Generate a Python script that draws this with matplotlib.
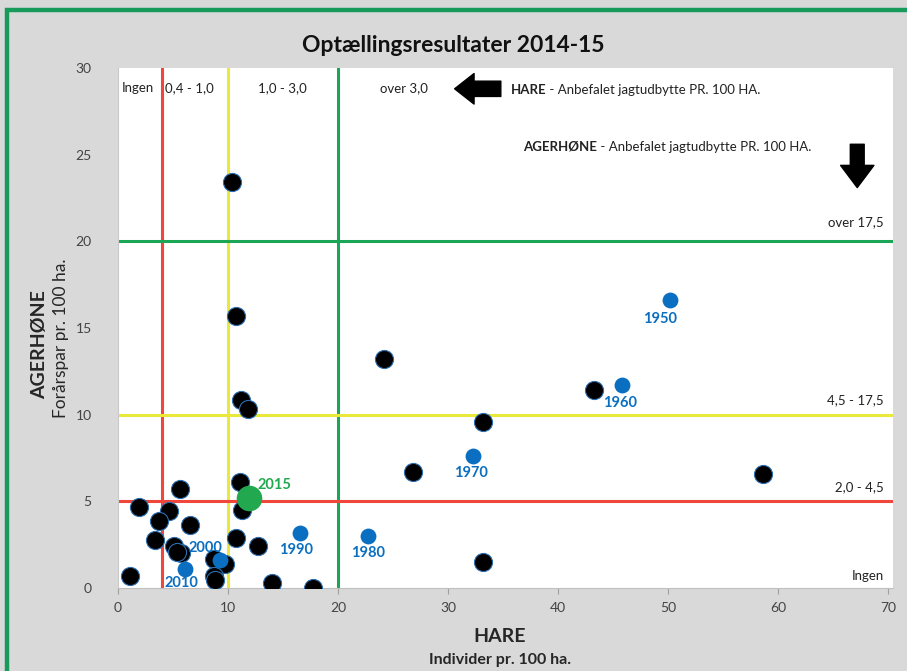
import matplotlib.pyplot as plt

plt.rcParams['font.family'] = ['Lato', 'DejaVu Sans']

# black points (hare, partridge) per count
hare = [10.4, 10.7, 11.15, 11.85, 24.2, 43.3, 33.2, 26.8, 58.6, 33.2,
        11.1, 11.3, 5.6, 1.9, 4.6, 3.7, 6.5, 3.4, 5.1, 5.7, 5.4,
        10.7, 12.75, 8.7, 9.7, 1.1, 8.7, 8.8, 14.0, 17.75]
agerhone = [23.4, 15.7, 10.85, 10.3, 13.2, 11.4, 9.55, 6.7, 6.6, 1.5,
            6.1, 4.5, 5.7, 4.7, 4.45, 3.85, 3.65, 2.75, 2.45, 2.0, 2.05,
            2.9, 2.4, 1.7, 1.4, 0.7, 0.7, 0.45, 0.3, 0.0]

# decade points (blue)
aar = ['1950', '1960', '1970', '1980', '1990', '2000', '2010']
aar_hare = [50.2, 45.8, 32.3, 22.75, 16.5, 9.3, 6.1]
aar_agerhone = [16.6, 11.7, 7.6, 3.0, 3.2, 1.6, 1.1]
aar_offset = [(-10, -19), (-2, -18), (-2, -17), (0, -17), (-3, -17), (-15, 12), (-4, -14)]

# 2015
hare_2015 = 11.9
agerhone_2015 = 5.2

# grænser
graense_x = [4, 10, 20]
graense_y = [5, 10, 20]
farver = ['#f0463c', '#ebe83c', '#1aa654']

top_tekst = ['Ingen', '0,4 - 1,0', '1,0 - 3,0', 'over 3,0']
top_x = [1.8, 6.5, 14.9, 26.0]
hoejre_tekst = ['over 17,5', '4,5 - 17,5', '2,0 - 4,5', 'Ingen']
hoejre_y = [21.1, 10.85, 5.8, 0.7]

fig = plt.figure(figsize=(9.07, 6.71), dpi=100)
fig.patch.set_facecolor('#d9d9d9')

# grøn ramme (venstre + top)
ramme = plt.Rectangle((0.0077, -0.5), 2, 0.5 + 0.985, transform=fig.transFigure,
                      fill=False, edgecolor='#179a5a', linewidth=3.2)
fig.patches.append(ramme)

ax = fig.add_axes([118 / 907, 1 - 588 / 671, (893 - 118) / 907, (588 - 68) / 671])
ax.set_facecolor('white')
ax.set_xlim(0, 70.45)
ax.set_ylim(0, 30)

for x, c in zip(graense_x, farver):
    ax.axvline(x, color=c, linewidth=2.2, zorder=1)
for y, c in zip(graense_y, farver):
    ax.axhline(y, color=c, linewidth=2.2, zorder=1)

ax.scatter(hare, agerhone, s=170, color='black', edgecolors='#2c6fb0', linewidths=0.8, zorder=3)
ax.scatter(aar_hare, aar_agerhone, s=130, color='#0a6fc0', linewidths=0, zorder=4)
for a, x, y, off in zip(aar, aar_hare, aar_agerhone, aar_offset):
    ax.annotate(a, (x, y), xytext=off, textcoords='offset pixels', ha='center', va='center',
                color='#0a6fc0', fontsize=10.5, fontweight='bold', zorder=5)

ax.scatter([hare_2015], [agerhone_2015], s=340, color='#22a84f', linewidths=0, zorder=5)
ax.annotate('2015', (hare_2015, agerhone_2015), xytext=(26, 13), textcoords='offset pixels',
            ha='center', va='center', color='#22a84f', fontsize=10.5, fontweight='bold', zorder=5)

# tekster
for t, x in zip(top_tekst, top_x):
    ax.text(x, 28.85, t, ha='center', va='center', fontsize=9.5, color='#222222')
for t, y in zip(hoejre_tekst, hoejre_y):
    ax.text(69.6, y, t, ha='right', va='center', fontsize=9.5, color='#222222')

t1 = ax.text(35.7, 28.75, 'HARE', ha='left', va='center', fontsize=9.5, fontweight='bold', color='#222222')
ax.annotate(' - Anbefalet jagtudbytte PR. 100 HA.', xy=(1, 0.5), xycoords=t1, ha='left', va='center',
            fontsize=9.5, color='#222222')
t2 = ax.text(36.8, 25.45, 'AGERHØNE', ha='left', va='center', fontsize=9.5, fontweight='bold', color='#222222')
ax.annotate(' - Anbefalet jagtudbytte PR. 100 HA.', xy=(1, 0.5), xycoords=t2, ha='left', va='center',
            fontsize=9.5, color='#222222')

ax.annotate('', xy=(30.6, 28.8), xytext=(34.8, 28.8),
            arrowprops=dict(arrowstyle='simple,head_length=0.7,head_width=1.1,tail_width=0.55',
                            color='black', mutation_scale=20, shrinkA=0, shrinkB=0))
ax.annotate('', xy=(67.2, 23.1), xytext=(67.2, 25.6),
            arrowprops=dict(arrowstyle='simple,head_length=0.8,head_width=1.2,tail_width=0.5',
                            color='black', mutation_scale=20, shrinkA=0, shrinkB=0))

# akser
ax.set_xticks(range(0, 71, 10))
ax.set_yticks(range(0, 31, 5))
ax.tick_params(axis='x', colors='#a0a0a0', length=4, labelcolor='#444444', labelsize=10, pad=6)
ax.tick_params(axis='y', length=0, labelcolor='#444444', labelsize=10, pad=19)
for s in ['top', 'right']:
    ax.spines[s].set_visible(False)
ax.spines['left'].set_color('#c8c8c8')
ax.spines['bottom'].set_color('#bfbfbf')

fig.text(500 / 907, 1 - 636 / 671, 'HARE', ha='center', va='center', fontsize=14, fontweight='bold', color='#262626')
fig.text(500 / 907, 1 - 660 / 671, 'Individer pr. 100 ha.', ha='center', va='center', fontsize=11.5,
         fontweight='bold', color='#262626')
fig.text(40 / 907, 1 - 345 / 671, 'AGERHØNE', ha='center', va='center', rotation=90, fontsize=14,
         fontweight='bold', color='#262626')
fig.text(61 / 907, 1 - 338 / 671, 'Forårspar pr. 100 ha.', ha='center', va='center', rotation=90,
         fontsize=12.5, color='#262626')
fig.text(453 / 907, 1 - 45 / 671, 'Optællingsresultater 2014-15', ha='center', va='center', fontsize=16.5,
         fontweight='bold', color='#111111')

fig.savefig('out.png', dpi=100, facecolor=fig.get_facecolor())
